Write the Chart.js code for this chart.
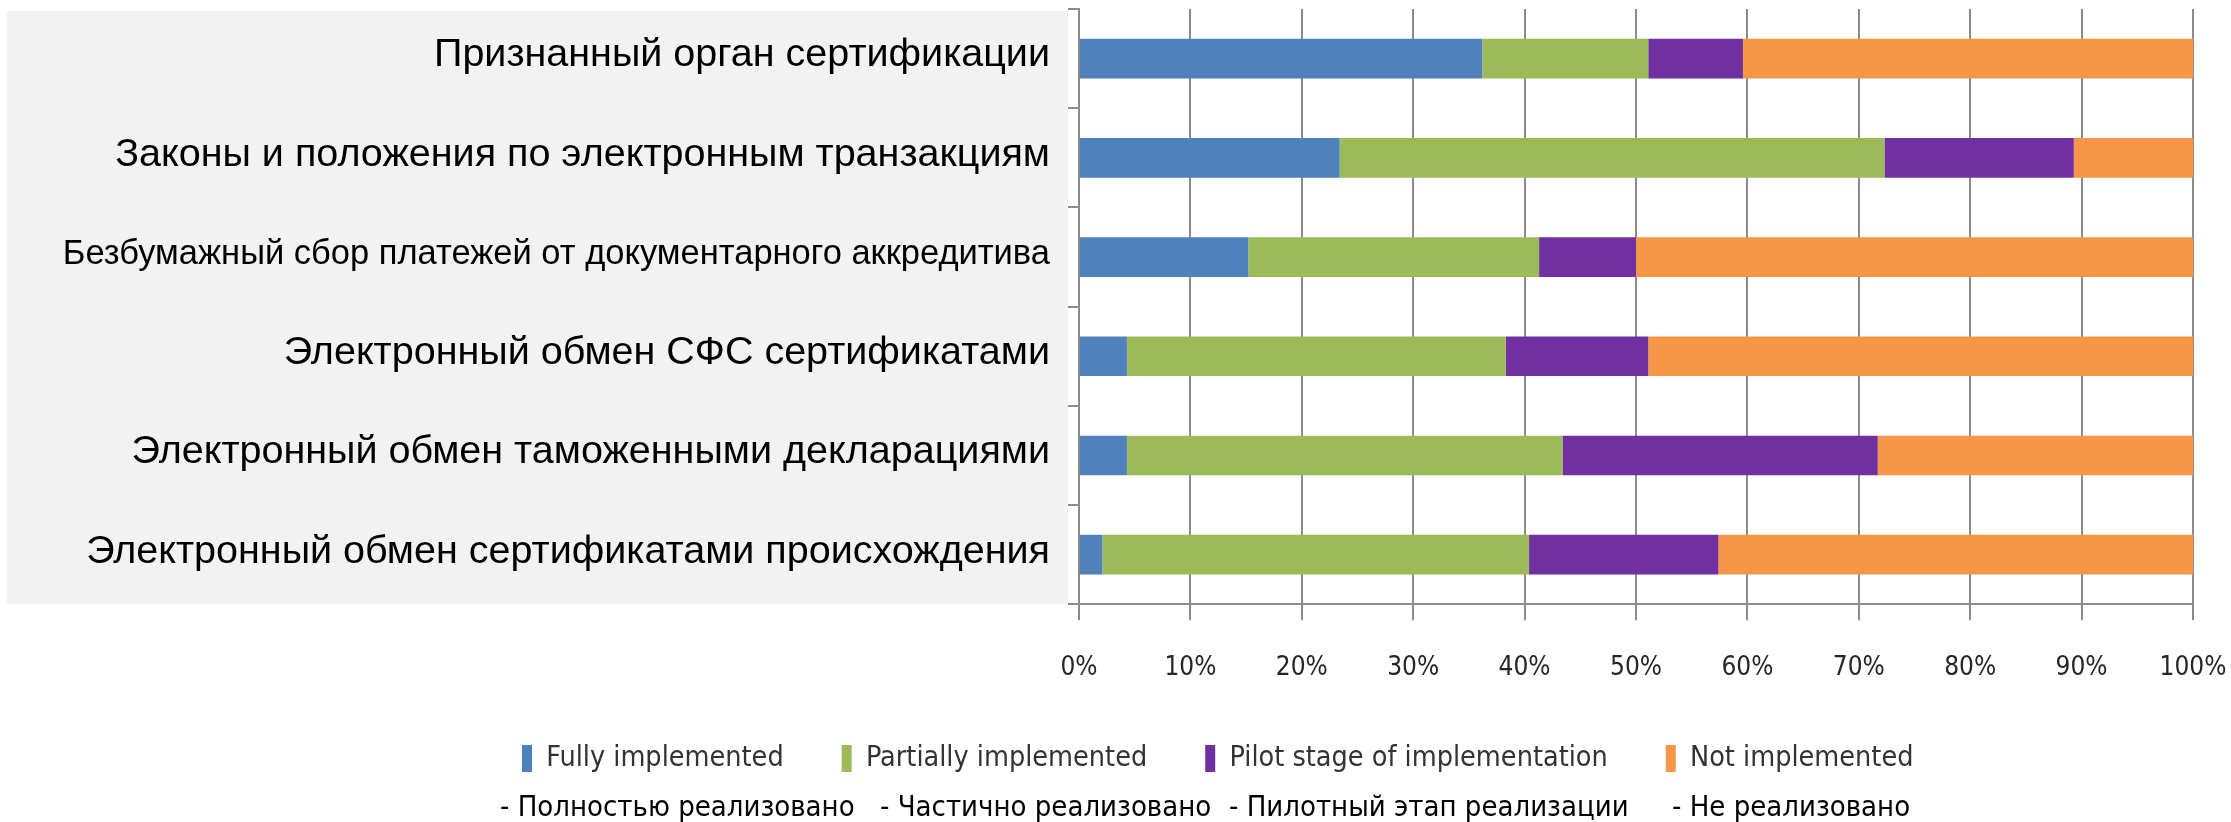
<!DOCTYPE html>
<html>
<head>
<meta charset="utf-8">
<script src="https://cdn.jsdelivr.net/npm/chart.js@4.4.1/dist/chart.umd.min.js"></script>
<style>
html,body{margin:0;padding:0;background:#fff;}
#wrap{position:relative;width:2231px;height:822px;}
</style>
</head>
<body>
<div id="wrap"><canvas id="c"></canvas></div>
<script>
// ---- data ----
const categories = [
  'Признанный орган сертификации',
  'Законы и положения по электронным транзакциям',
  'Безбумажный сбор платежей от документарного аккредитива',
  'Электронный обмен СФС сертификатами',
  'Электронный обмен таможенными декларациями',
  'Электронный обмен сертификатами происхождения'
];
const seriesNames = ['Fully implemented', 'Partially implemented', 'Pilot stage of implementation', 'Not implemented'];
const seriesNamesRu = ['- Полностью реализовано', '- Частично реализовано', '- Пилотный этап реализации', '- Не реализовано'];
const fullyImplemented = [36.2, 23.4, 15.2, 4.3, 4.3, 2.1];
const partiallyImplemented = [14.9, 48.9, 26.1, 34.0, 39.1, 38.3];
const pilotStage = [8.5, 17.0, 8.7, 12.8, 28.3, 17.0];
const notImplemented = [40.4, 10.7, 50.0, 48.9, 28.3, 42.6];
const xTickLabels = ['0%', '10%', '20%', '30%', '40%', '50%', '60%', '70%', '80%', '90%', '100%'];

// ---- styles / layout ----
const colors = ['#4f81bd', '#9bbb59', '#7030a0', '#f79646'];
const NARROW = "'DejaVu Sans Condensed', 'DejaVu Sans', sans-serif";
const REG = "'Liberation Sans', Arial, sans-serif";
const GRID = '#8c8c8c';
const LEGEND_FONT = 28.5;
const LEGEND_BOX_H = 27;
const LEGEND_PAD = 58;
const LEGEND_START_X = 522;
const LEGEND_BOX_TOP = 745;
const RU_X = [500, 880, 1229, 1672];
const RU_Y = 808;
const RU_FONT = 29;

const panelPlugin = {
  id: 'panel',
  beforeDraw(chart) {
    const { ctx, chartArea } = chart;
    ctx.save();
    ctx.fillStyle = '#f2f2f2';
    ctx.fillRect(7, 11, chartArea.left - 11 - 7, chartArea.bottom - 11);
    ctx.restore();
  }
};

const legendPlace = {
  id: 'legendPlace',
  afterLayout(chart) {
    const lg = chart.legend;
    const w = lg.right - lg.left;
    const h = lg.bottom - lg.top;
    lg.left = LEGEND_START_X - LEGEND_PAD;
    lg.right = lg.left + w;
    lg.top = LEGEND_BOX_TOP - LEGEND_PAD - Math.max((LEGEND_FONT - LEGEND_BOX_H) / 2, 0);
    lg.bottom = lg.top + h;
  }
};

const ruPlugin = {
  id: 'ruLine',
  afterDraw(chart) {
    const ctx = chart.ctx;
    ctx.save();
    ctx.font = RU_FONT + 'px ' + NARROW;
    ctx.fillStyle = '#000';
    ctx.textBaseline = 'middle';
    ctx.textAlign = 'left';
    seriesNamesRu.forEach((t, i) => ctx.fillText(t, RU_X[i], RU_Y));
    ctx.restore();
  }
};

const seriesValues = [fullyImplemented, partiallyImplemented, pilotStage, notImplemented];

new Chart(document.getElementById('c'), {
  type: 'bar',
  data: {
    labels: categories,
    datasets: seriesNames.map((name, i) => ({
      label: name,
      data: seriesValues[i],
      backgroundColor: colors[i],
      borderWidth: 0,
      barPercentage: 0.4,
      categoryPercentage: 1.0
    }))
  },
  options: {
    indexAxis: 'y',
    responsive: true,
    maintainAspectRatio: false,
    animation: false,
    layout: { padding: { left: 7, top: 9, right: 38, bottom: 10 } },
    scales: {
      x: {
        stacked: true,
        min: 0,
        max: 100,
        ticks: {
          stepSize: 10,
          padding: 32,
          color: '#262626',
          font: { family: NARROW, size: 26 },
          maxRotation: 0,
          autoSkip: false,
          callback: (v, i) => xTickLabels[i]
        },
        grid: { color: GRID, lineWidth: 2, tickLength: 16 },
        border: { color: GRID, width: 2 },
        afterFit(scale) { scale.paddingLeft = 0; scale.paddingRight = 0; }
      },
      y: {
        stacked: true,
        grid: { offset: true, drawOnChartArea: false, tickLength: 11, color: GRID, lineWidth: 2 },
        border: { color: GRID, width: 2 },
        ticks: {
          color: '#000',
          padding: 18,
          labelOffset: -3,
          autoSkip: false,
          font: (ctx) => ({ family: REG, size: ctx.index === 2 ? 34.5 : 39.5 })
        },
        afterFit(scale) { scale.width = 1072; scale.paddingTop = 0; scale.paddingBottom = 0; }
      }
    },
    plugins: {
      legend: {
        position: 'bottom',
        align: 'start',
        labels: {
          boxWidth: 10,
          boxHeight: LEGEND_BOX_H,
          padding: LEGEND_PAD,
          color: '#333',
          font: { family: NARROW, size: LEGEND_FONT }
        }
      },
      tooltip: { enabled: false }
    }
  },
  plugins: [panelPlugin, legendPlace, ruPlugin]
});
</script>
</body>
</html>
